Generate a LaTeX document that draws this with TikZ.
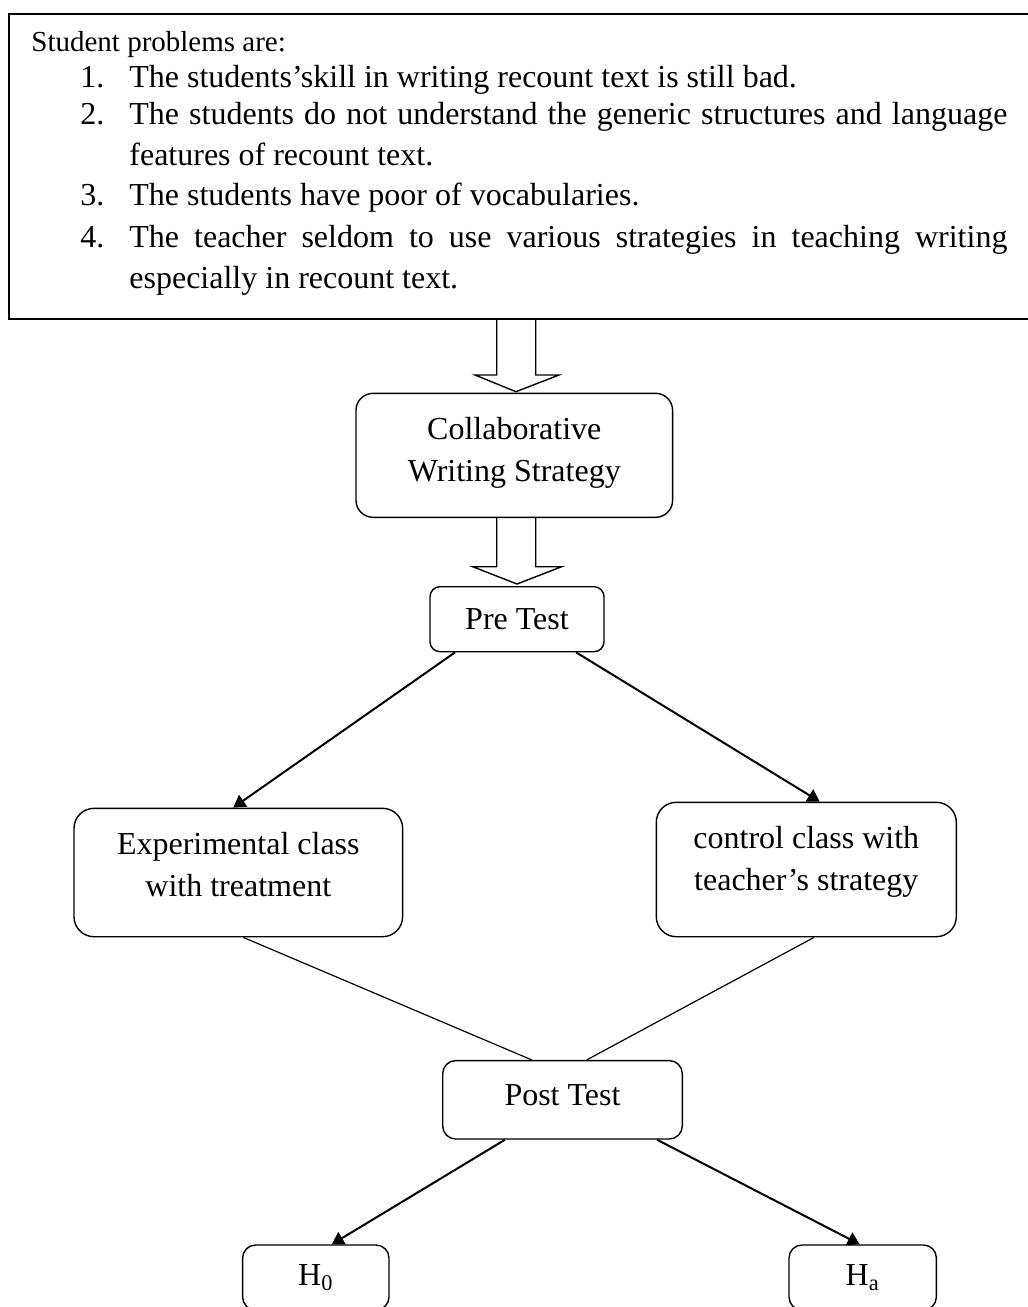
\documentclass[tikz,border=0pt]{standalone}
\usepackage{fontspec}
\setmainfont{Liberation Serif}
\usetikzlibrary{arrows.meta}
\begin{document}
\begin{tikzpicture}[x=0.5pt,y=-0.5pt,
  box/.style={draw, line width=0.7pt, rounded corners=#1, inner sep=0pt, fill=white,
              font=\fontsize{16pt}{21pt}\selectfont},
  box/.default=6pt,
  lbl/.style={inner sep=0pt, font=\fontsize{16pt}{21pt}\selectfont, align=center},
  itm/.style={inner sep=0pt, anchor=base west, font=\fontsize{16pt}{19pt}\selectfont},
  arr/.style={line width=1pt, -{Triangle[length=6pt,width=7pt]}},
  ln/.style={line width=0.6pt},
  hollow/.style={line width=0.7pt, line join=miter}]
\useasboundingbox (0,0) rectangle (1028,1307);

% problem box
\node[draw, line width=1pt, minimum width=515.35pt, minimum height=152.5pt, inner sep=0pt] (probbox) at (524.65,166) {};
\node[itm, font=\fontsize{14.5pt}{17pt}\selectfont] (head) at (31,51.5) {Student problems are:};
\node[itm] (i1) at (80,87) {\makebox[24.5pt][l]{1.}The students'skill in writing recount text is still bad.};
\node[itm] (i2) at (80,124.5) {\makebox[24.5pt][l]{2.}\makebox[439pt][s]{The students do not understand the generic structures and language}};
\node[itm] (i2b) at (129,165.5) {features of recount text.};
\node[itm] (i3) at (80,205.5) {\makebox[24.5pt][l]{3.}The students have poor of vocabularies.};
\node[itm] (i4) at (80,247) {\makebox[24.5pt][l]{4.}\makebox[439pt][s]{The teacher seldom to use various strategies in teaching writing}};
\node[itm] (i4b) at (129,288.5) {especially in recount text.};

% boxes
\node[box=8.5pt, minimum width=158.3pt, minimum height=62pt] (cws) at (514.3,455.3) {};
\node[lbl] (cwsT) at (514.3,453) {Collaborative\\Writing Strategy};
\node[box=5pt, minimum width=87pt, minimum height=32.5pt] (pre) at (517,619.2) {Pre Test};
\node[box=10pt, minimum width=164.3pt, minimum height=64.2pt] (exp) at (238.3,872.5) {};
\node[lbl] (expT) at (238.3,864.6) {Experimental class\\with treatment};
\node[box=10pt, minimum width=150pt, minimum height=67.2pt] (ctl) at (806.3,869.5) {};
\node[lbl] (ctlT) at (806.3,862.1) {control class with\\teacher's strategy};
\node[box=6.5pt, minimum width=119.8pt, minimum height=39.2pt, text height=8pt, text depth=2.4pt] (post) at (562.5,1099.8) {Post Test};
\node[box=6.5pt, minimum width=73.2pt, minimum height=32.5pt] (h0) at (315.8,1277.5) {H\textsubscript{0}};
\node[box=6.5pt, minimum width=73.7pt, minimum height=32.5pt] (ha) at (862.7,1277.5) {H\textsubscript{a}};

% hollow block arrows
\draw[hollow] (496.7,319.3) -- (496.7,375) -- (475,375) -- (516,391.7) -- (559,375) -- (535.7,375) -- (535.7,319.3);
\draw[hollow] (496.7,517.3) -- (496.7,566.7) -- (472.7,566.7) -- (517,584) -- (561.7,566.7) -- (535.7,566.7) -- (535.7,517.3);

% connectors
\draw[arr] ([xshift=-31pt]pre.south) -- ([xshift=-2.5pt]exp.north);
\draw[arr] ([xshift=29.6pt]pre.south) -- ([xshift=6.7pt]ctl.north);
\draw[ln] ([xshift=2.5pt]exp.south) -- ([xshift=-15.4pt]post.north);
\draw[ln] ([xshift=3.85pt]ctl.south) -- ([xshift=12.1pt]post.north);
\draw[arr] ([xshift=-28.75pt]post.south) -- ([xshift=8pt]h0.north);
\draw[arr] ([xshift=47.25pt]post.south) -- ([xshift=-1.5pt]ha.north);
\end{tikzpicture}
\end{document}
